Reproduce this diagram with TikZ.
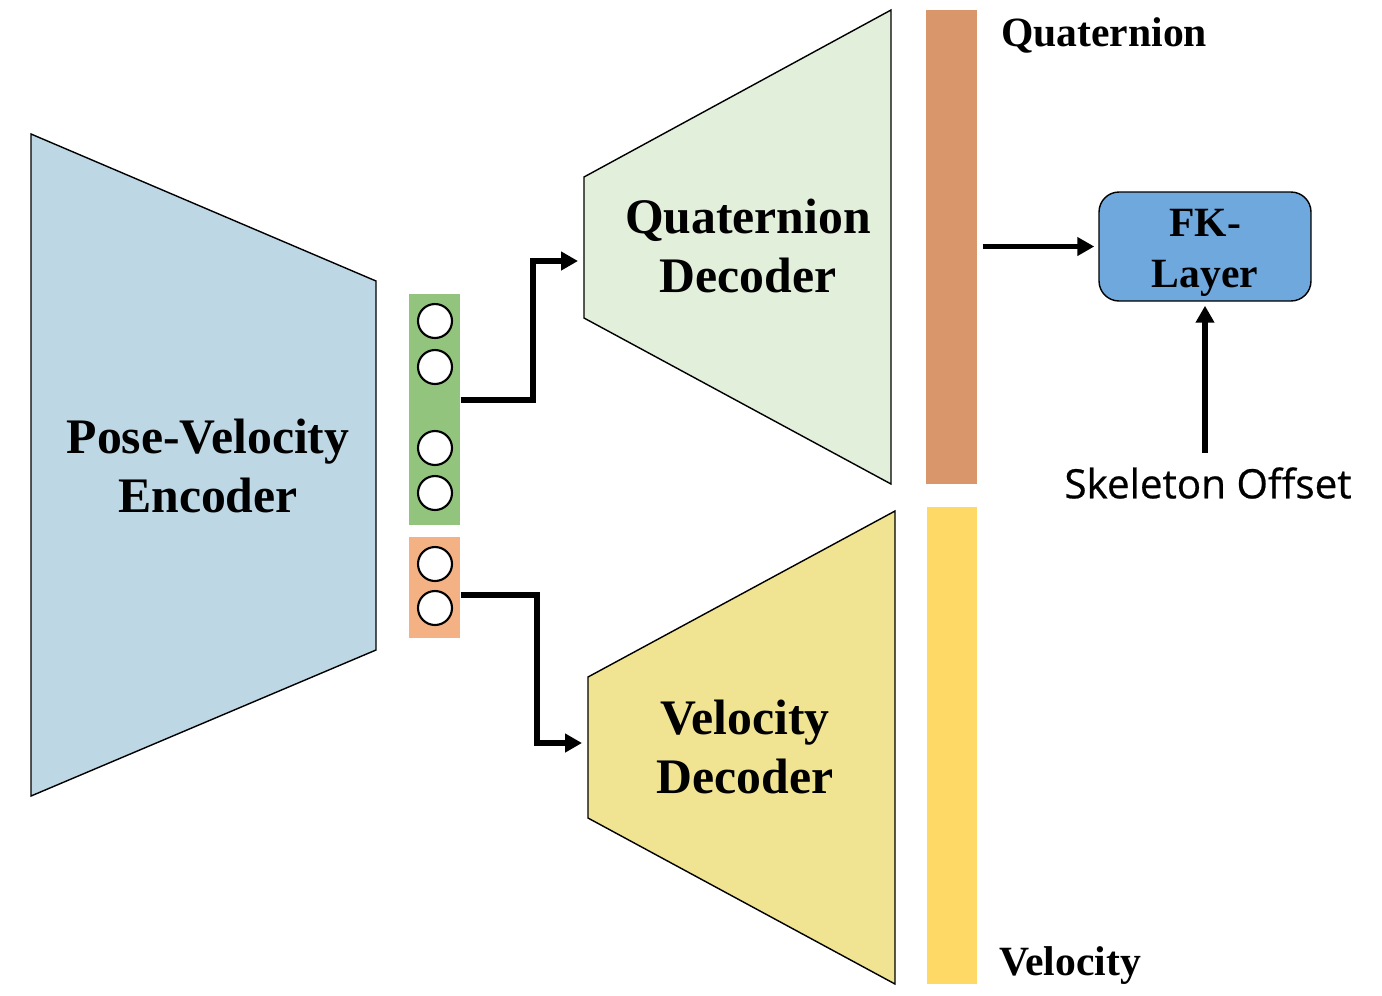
\documentclass[tikz,border=0pt]{standalone}
\usepackage{fontspec}
\setmainfont{Liberation Serif}
\newfontfamily\skelfont[FakeBold = 0.6]{Open Sans}
\usetikzlibrary{arrows, arrows.meta}
\definecolor{encblue}{HTML}{BDD7E4}
\definecolor{zgreen}{HTML}{93C47D}
\definecolor{zorange}{HTML}{F4B183}
\definecolor{qgreen}{HTML}{E2EFDA}
\definecolor{vyellow}{HTML}{F0E391}
\definecolor{qbrown}{HTML}{D9966A}
\definecolor{vgold}{HTML}{FFD966}
\definecolor{fkblue}{HTML}{6FA8DC}
\tikzset{block/.style = {draw, line width = 0.8pt}}
\tikzset{bar/.style = {anchor = north west, inner sep = 0pt, minimum width = 1.02cm}}
\tikzset{unit/.style = {shape = circle, draw, fill = white, line width = 1.2pt, minimum size = 0.68cm, inner sep = 0pt}}
\tikzset{title/.style = {font = \bfseries\fontsize{28.3}{34}\selectfont, align = center}}
\tikzset{tag/.style = {font = \bfseries\fontsize{23.7}{29}\selectfont, align = center}}
\tikzset{link/.style = {line width = 3pt, -{Triangle[length = 0.34cm, width = 0.36cm]}}}

\begin{document}
\begin{tikzpicture}[x = 0.02cm, y = -0.02cm]
				\useasboundingbox (0, 0) rectangle (1382, 995);

				\draw[block, fill = encblue] (31, 134) -- (376, 281) -- (376, 650) -- (31, 796) -- cycle;
				\draw[block, fill = qgreen] (584, 177) -- (891, 10) -- (891, 484) -- (584, 318) -- cycle;
				\draw[block, fill = vyellow] (588, 677) -- (895, 511) -- (895, 984) -- (588, 818) -- cycle;
				\coordinate (qdecin) at (584, 261);
				\coordinate (vdecin) at (588, 743);

				\node[title] (enc) at (208, 466) {Pose-Velocity\\Encoder};
				\node[title] (qdec) at (748, 246) {Quaternion\\Decoder};
				\node[title] (vdec) at (745, 747) {Velocity\\Decoder};

				\node[bar, fill = zgreen, minimum height = 4.62cm] (zpose) at (409, 294) {};
				\node[bar, fill = zorange, minimum height = 2.02cm] (zvel) at (409, 537) {};
				\node[unit] (u1) at (435, 321) {};
				\node[unit] (u2) at (435, 367) {};
				\node[unit] (u3) at (435, 448) {};
				\node[unit] (u4) at (435, 493) {};
				\node[unit] (u5) at (435, 564) {};
				\node[unit] (u6) at (435, 608) {};

				\node[bar, fill = qbrown, minimum height = 9.48cm] (qbar) at (926, 10) {};
				\node[bar, fill = vgold, minimum height = 9.54cm, minimum width = 1.0cm] (vbar) at (927, 507) {};
				\node[tag] (qlabel) at (1104, 35) {Quaternion};
				\node[tag] (vlabel) at (1070, 966) {Velocity};

				\node[block, fill = fkblue, rounded corners = 0.4cm, minimum width = 4.24cm, minimum height = 2.18cm, label = {[tag, yshift = -0.13cm]center:{FK-\\Layer}}] (fk) at (1205, 246.5) {};
				\node[font = \skelfont\fontsize{23}{28}\selectfont] (skel) at (1208, 483) {Skeleton Offset};

				\draw[link, shorten >= 3.4pt] (zpose.east |- 0, 400) -- (533, 400) |- (qdecin);
				\draw[link, shorten >= 3.4pt] (zvel.east |- 0, 595) -- (537, 595) |- (vdecin);
				\draw[link, shorten <= 2.8pt, shorten >= 2.3pt] (qbar.east |- fk.west) -- (fk.west);
				\draw[link, shorten >= 2.3pt] (skel.north -| fk.south) ++(0, -8) -- (fk.south);
			\end{tikzpicture}
\end{document}
